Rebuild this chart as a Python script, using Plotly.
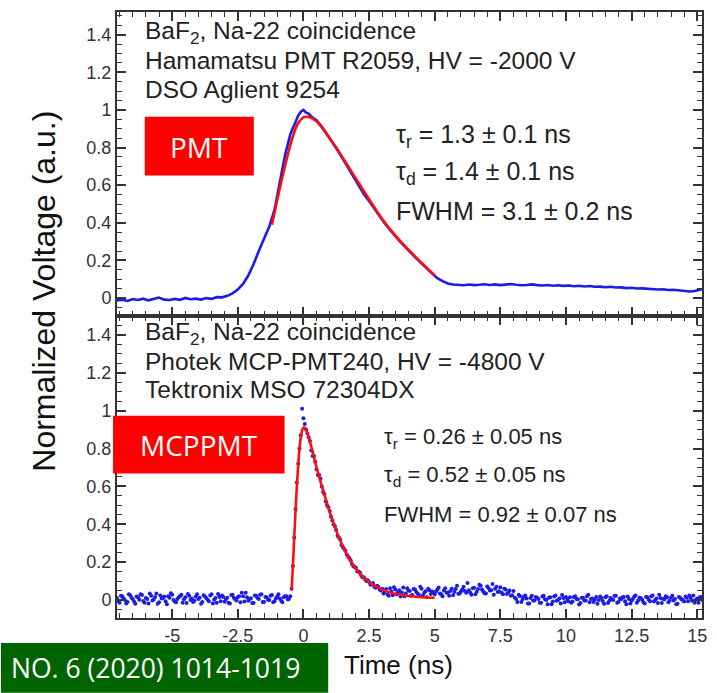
import plotly.graph_objects as go

# ---------------- data ----------------
# Top panel: Hamamatsu PMT waveform (time in ns, voltage in milli-units)
pmt_t = [-7.1, -6.9, -6.7, -6.5, -6.3, -6.1, -5.9, -5.7, -5.5, -5.3, -5.1, -4.9, -4.7, -4.5, -4.3, -4.1, -3.9, -3.7, -3.5, -3.3, -3.1,
         -2.9, -2.7, -2.5, -2.3, -2.1, -1.9, -1.7, -1.5, -1.3, -1.1, -0.9, -0.7, -0.5, -0.3, -0.2, -0.1, 0.0, 0.1, 0.2, 0.3,
         0.5, 0.7, 0.9, 1.1, 1.3, 1.5, 1.7, 1.9, 2.1, 2.3, 2.5, 2.7, 2.9, 3.1, 3.3, 3.5, 3.7, 3.9, 4.1, 4.3, 4.5, 4.7, 4.9, 5.1, 5.3, 5.5, 5.7,
         5.9, 6.1, 6.3, 6.5, 6.7, 6.9, 7.1, 7.3, 7.5, 7.7, 7.9, 8.1, 8.3, 8.5, 8.7, 8.9, 9.1, 9.3, 9.5, 9.7,
         9.9, 10.1, 10.3, 10.5, 10.7, 10.9, 11.1, 11.3, 11.5, 11.7, 11.9, 12.1, 12.3, 12.5, 12.7, 12.9, 13.1, 13.3, 13.5, 13.7,
         13.9, 14.1, 14.3, 14.5, 14.7, 14.9, 15.1, 15.2]
pmt_mv = [-12, -8, -15, -5, -10, -3, -12, -6, 3, -8, -10, -4, -9, 1, -6, -3, -8, 0, -4, 5, 4,
          12, 25, 45, 75, 120, 180, 250, 315, 380, 470, 620, 760, 870, 940, 970, 990, 1000, 985, 980, 965,
          945, 910, 872, 828, 786, 740, 692, 641, 597, 553, 516, 474, 437, 396, 362, 328, 297, 268, 238, 211, 184, 157, 131, 106, 90, 78, 72,
          70, 68, 72, 69, 71, 74, 70, 73, 69, 72, 75, 71, 68, 70, 73, 69, 67, 70, 66, 68,
          65, 67, 63, 66, 62, 64, 60, 61, 58, 60, 56, 57, 53, 55, 51, 52, 49, 50, 46, 47,
          43, 44, 40, 37, 35, 38, 45, 48]

# Top panel: fit curve
pmt_fit_t = [-1.2, -1.0, -0.8, -0.6, -0.4, -0.2, 0.0, 0.2, 0.4, 0.6, 0.8, 1.0, 1.25, 1.5, 1.75, 2.0, 2.25, 2.5, 2.75,
             3.0, 3.25, 3.5, 3.75, 4.0, 4.25, 4.5, 4.75, 5.0]
pmt_fit_v = [0.39, 0.52, 0.645, 0.76, 0.86, 0.93, 0.96, 0.962, 0.95, 0.925, 0.89, 0.85, 0.80, 0.745, 0.69, 0.635, 0.58, 0.525, 0.472,
             0.42, 0.375, 0.333, 0.293, 0.257, 0.222, 0.188, 0.154, 0.12]

# Bottom panel: Photek MCP-PMT samples (two interleaved sample sets)
mcp_a_t = [-7.1, -7.0, -6.9, -6.8, -6.7, -6.6, -6.5, -6.4, -6.3, -6.2,
           -6.1, -6.0, -5.9, -5.8, -5.7, -5.6, -5.5, -5.4, -5.3, -5.2,
           -5.1, -5.0, -4.9, -4.8, -4.7, -4.6, -4.5, -4.4, -4.3, -4.2,
           -4.1, -4.0, -3.9, -3.8, -3.7, -3.6, -3.5, -3.4, -3.3, -3.2,
           -3.1, -3.0, -2.9, -2.8, -2.7, -2.6, -2.5, -2.4, -2.3, -2.2,
           -2.1, -2.0, -1.9, -1.8, -1.7, -1.6, -1.5, -1.4, -1.3, -1.2,
           -1.1, -1.0, -0.9, -0.8, -0.7, -0.6,
           -0.5, -0.4, -0.3, -0.2, -0.1, 0.0, 0.1, 0.2, 0.3, 0.4,
           0.5, 0.6, 0.7, 0.8, 0.9, 1.0, 1.1, 1.2, 1.3, 1.4,
           1.5, 1.6, 1.7, 1.8, 1.9, 2.0, 2.1, 2.2, 2.3, 2.4,
           2.5, 2.6, 2.7, 2.8, 2.9, 3.0,
           3.1, 3.2, 3.3, 3.4, 3.5, 3.6, 3.7, 3.8, 3.9, 4.0,
           4.1, 4.2, 4.3, 4.4, 4.5, 4.6, 4.7, 4.8, 4.9, 5.0,
           5.1, 5.2, 5.3, 5.4, 5.5, 5.6, 5.7, 5.8, 5.9, 6.0,
           6.1, 6.2, 6.3, 6.4, 6.5, 6.6, 6.7, 6.8, 6.9, 7.0,
           7.1, 7.2, 7.3, 7.4, 7.5, 7.6, 7.7, 7.8, 7.9, 8.0,
           8.1, 8.2, 8.3, 8.4, 8.5, 8.6, 8.7, 8.8, 8.9, 9.0,
           9.1, 9.2, 9.3, 9.4, 9.5, 9.6, 9.7, 9.8, 9.9, 10.0,
           10.1, 10.2, 10.3, 10.4, 10.5, 10.6, 10.7, 10.8, 10.9, 11.0,
           11.1, 11.2, 11.3, 11.4, 11.5, 11.6, 11.7, 11.8, 11.9, 12.0,
           12.1, 12.2, 12.3, 12.4, 12.5, 12.6, 12.7, 12.8, 12.9, 13.0,
           13.1, 13.2, 13.3, 13.4, 13.5, 13.6, 13.7, 13.8, 13.9, 14.0,
           14.1, 14.2, 14.3, 14.4, 14.5, 14.6, 14.7, 14.8, 14.9, 15.0,
           15.1, 15.2]
mcp_a_mv = [10, -15, 20, 0, -10, 25, 5, -20, 15, 30,
            -5, 10, -18, 22, 3, 35, -12, 8, 18, -22,
            12, 28, -8, 5, 20, -15, 14, 32, 0, -10,
            18, 6, -20, 25, 10, -6, 30, 2, -14, 16,
            24, -9, 12, -18, 28, 4, 15, -12, 20, 38,
            -4, 9, -16, 22, 6, 30, -10, 14, 0, 26,
            -7, 18, 8, -12, 20, 4,
            20, 180, 480, 720, 870, 960, 900, 860, 790, 760,
            690, 660, 600, 560, 500, 470, 420, 390, 340, 320,
            280, 260, 230, 210, 180, 170, 150, 130, 120, 100,
            95, 85, 70, 75, 55, 60,
            48, 30, 62, 25, 55, 40, 18, 66, 35, 50,
            22, 58, 42, 28, 60, 38, 15, 52, 45, 30,
            55, 35, 20, 62, 40, 48, 25, 58, 33, 45,
            70, 38, 52, 28, 65, 44, 80, 55, 36, 72,
            50, 85, 60, 42, 68, 30, 55, 40, 22, 48,
            5, 28, -10, 18, 8, -18, 22, -2, 12, -14,
            18, 4, -22, 14, -8, 24, 0, -18, 10, 16,
            -6, -14, 16, 6, -24, 12, -2, 20, -12, 8,
            2, -20, 18, -5, 14, -16, 10, 0, 22, -10,
            4, 16, -22, 6, -4, 18, -14, 12, 2, -18,
            14, -6, 24, 0, -16, 10, 6, 20, -12, 12,
            -2, -22, 16, 4, -8, 12, 24, -4, -14, 8,
            14, 0]

mcp_b_t = [-7.05, -6.95, -6.85, -6.75, -6.65, -6.55, -6.45, -6.35, -6.25, -6.15,
           -6.05, -5.95, -5.85, -5.75, -5.65, -5.55, -5.45, -5.35, -5.25, -5.15,
           -5.05, -4.95, -4.85, -4.75, -4.65, -4.55, -4.45, -4.35, -4.25, -4.15,
           -4.05, -3.95, -3.85, -3.75, -3.65, -3.55, -3.45, -3.35, -3.25, -3.15,
           -3.05, -2.95, -2.85, -2.75, -2.65, -2.55, -2.45, -2.35, -2.25, -2.15,
           -2.05, -1.95, -1.85, -1.75, -1.65, -1.55, -1.45, -1.35, -1.25, -1.15,
           -1.05, -0.95, -0.85, -0.75, -0.65, -0.55,
           -0.45, -0.35, -0.25, -0.15, -0.05, 0.05, 0.15, 0.25, 0.35, 0.45,
           0.55, 0.65, 0.75, 0.85, 0.95, 1.05, 1.15, 1.25, 1.35, 1.45,
           1.55, 1.65, 1.75, 1.85, 1.95, 2.05, 2.15, 2.25, 2.35, 2.45,
           2.55, 2.65, 2.75, 2.85, 2.95,
           3.05, 3.15, 3.25, 3.35, 3.45, 3.55, 3.65, 3.75, 3.85, 3.95,
           4.05, 4.15, 4.25, 4.35, 4.45, 4.55, 4.65, 4.75, 4.85, 4.95,
           5.05, 5.15, 5.25, 5.35, 5.45, 5.55, 5.65, 5.75, 5.85, 5.95,
           6.05, 6.15, 6.25, 6.35, 6.45, 6.55, 6.65, 6.75, 6.85, 6.95,
           7.05, 7.15, 7.25, 7.35, 7.45, 7.55, 7.65, 7.75, 7.85, 7.95,
           8.05, 8.15, 8.25, 8.35, 8.45, 8.55, 8.65, 8.75, 8.85, 8.95,
           9.05, 9.15, 9.25, 9.35, 9.45, 9.55, 9.65, 9.75, 9.85, 9.95,
           10.05, 10.15, 10.25, 10.35, 10.45, 10.55, 10.65, 10.75, 10.85, 10.95,
           11.05, 11.15, 11.25, 11.35, 11.45, 11.55, 11.65, 11.75, 11.85, 11.95,
           12.05, 12.15, 12.25, 12.35, 12.45, 12.55, 12.65, 12.75, 12.85, 12.95,
           13.05, 13.15, 13.25, 13.35, 13.45, 13.55, 13.65, 13.75, 13.85, 13.95,
           14.05, 14.15, 14.25, 14.35, 14.45, 14.55, 14.65, 14.75, 14.85, 14.95,
           15.05, 15.15]
mcp_b_mv = [-5, 22, 8, -18, 30, 12, -8, 18, 2, 26,
            -14, 6, 34, -2, 16, -20, 24, 10, -6, 20,
            36, 0, -12, 14, 28, 4, -16, 22, 8, -4,
            30, 12, -10, 18, 2, 24, -18, 10, 32, -6,
            16, 6, -14, 26, 12, -2, 20, 38, -8, 14,
            4, -16, 24, 10, 28, -10, 16, 2, 22, -12,
            8, 30, -4, 14, 20, 6,
            60, 330, 620, 800, 1010, 930, 880, 840, 760, 730,
            660, 640, 570, 520, 490, 440, 400, 370, 330, 290,
            270, 240, 220, 190, 175, 150, 145, 120, 110, 105,
            80, 90, 65, 70, 50,
            35, 58, 22, 45, 68, 30, 52, 40, 20, 62,
            48, 26, 55, 35, 70, 24, 46, 60, 32, 40,
            45, 66, 30, 50, 38, 22, 60, 42, 75, 35,
            55, 48, 90, 40, 62, 30, 58, 76, 45, 35,
            64, 52, 28, 70, 46, 38, 60, 32, 50, 25,
            12, -10, 20, 4, 24, -18, 10, -2, 16, 6,
            -14, 22, 0, 12, -22, 18, -4, 8, 26, -12,
            2, 14, -8, 20, 4, -16, 12, -2, 28, 6,
            -10, 16, 0, 10, -20, 20, -4, 4, 22, -14,
            8, 14, -6, 18, -18, 6, 24, -2, 10, -12,
            16, 2, 20, -8, 8, 28, -16, 4, 14, -4,
            22, 6, -20, 12, 0, 18, -6, 10, 24, 2,
            -14, 16]

# Bottom panel: fit curve
mcp_fit_t = [-0.45, -0.4, -0.35, -0.3, -0.25, -0.2, -0.15, -0.1, -0.05, 0.0, 0.05, 0.1, 0.2, 0.3, 0.4, 0.5, 0.6, 0.8,
             1.0, 1.2, 1.4, 1.6, 1.8, 2.0, 2.2, 2.4, 2.6, 2.8, 3.0, 3.3, 3.6, 4.0, 4.5, 5.0]
mcp_fit_v = [0.05, 0.18, 0.33, 0.47, 0.6, 0.71, 0.8, 0.86, 0.895, 0.91, 0.91, 0.9, 0.86, 0.81, 0.755, 0.70, 0.65, 0.555,
             0.465, 0.385, 0.315, 0.255, 0.205, 0.165, 0.13, 0.105, 0.085, 0.068, 0.055, 0.04, 0.03, 0.021, 0.015, 0.012]

# Tick labels
x_tick_vals = [-5, -2.5, 0, 2.5, 5, 7.5, 10, 12.5, 15]
x_tick_text = ["-5", "-2.5", "0", "2.5", "5", "7.5", "10", "12.5", "15"]
y_tick_vals = [0, 0.2, 0.4, 0.6, 0.8, 1.0, 1.2, 1.4]
y_tick_text = ["0", "0.2", "0.4", "0.6", "0.8", "1", "1.2", "1.4"]

assert len(pmt_t) == len(pmt_mv)
assert len(mcp_a_t) == len(mcp_a_mv)
assert len(mcp_b_t) == len(mcp_b_mv)
assert len(pmt_fit_t) == len(pmt_fit_v) and len(mcp_fit_t) == len(mcp_fit_v)

pmt_v = [v / 1000 for v in pmt_mv]
mcp_t = mcp_a_t + mcp_b_t
mcp_v = [v / 1000 for v in mcp_a_mv + mcp_b_mv]

# ---------------- layout helpers ----------------
W, H = 717, 693
ML, MR, MT, MB = 117, 10, 10, 75
PW = W - ML - MR
PH = H - MT - MB


def px(x):
    return (x - ML) / PW


def py(y):
    return (H - MB - y) / PH


BLUE = "#1c1ce8"
RED = "#ff0d0d"
FRAME = "#333333"
SANS = "Liberation Sans, Arial, Helvetica, sans-serif"
BOXFONT = "Open Sans, Noto Sans, sans-serif"

fig = go.Figure()
fig.add_trace(go.Scatter(x=pmt_t, y=pmt_v, mode="lines", line=dict(color=BLUE, width=2.6),
                         xaxis="x", yaxis="y", showlegend=False, hoverinfo="skip"))
fig.add_trace(go.Scatter(x=pmt_fit_t, y=pmt_fit_v, mode="lines", line=dict(color=RED, width=2.6, shape="spline"),
                         xaxis="x", yaxis="y", showlegend=False, hoverinfo="skip"))
fig.add_trace(go.Scatter(x=mcp_t, y=mcp_v, mode="markers", marker=dict(color=BLUE, size=4, line=dict(width=0)),
                         xaxis="x2", yaxis="y2", showlegend=False, hoverinfo="skip"))
fig.add_trace(go.Scatter(x=mcp_fit_t, y=mcp_fit_v, mode="lines", line=dict(color=RED, width=2.6, shape="spline"),
                         xaxis="x2", yaxis="y2", showlegend=False, hoverinfo="skip"))

axis_common = dict(showline=True, linecolor=FRAME, linewidth=2, mirror="allticks",
                   ticks="inside", ticklen=9, tickwidth=1.5, tickcolor=FRAME,
                   showgrid=False, zeroline=False,
                   tickfont=dict(family=SANS, size=18, color="#333333"))
x_minor = dict(ticks="inside", ticklen=5, tickwidth=1.2, tickcolor=FRAME, tickmode="linear", tick0=0, dtick=0.5, showgrid=False)
y_minor = dict(ticks="inside", ticklen=5, tickwidth=1.2, tickcolor=FRAME, tickmode="linear", tick0=0, dtick=0.05, showgrid=False)

split = (H - MB - 315) / PH
x_range = [-7.1, 15.18]

fig.update_layout(
    width=W, height=H, autosize=False,
    margin=dict(l=ML, r=MR, t=MT, b=MB, pad=0),
    paper_bgcolor="white", plot_bgcolor="white",
    xaxis=dict(domain=[0, 1], anchor="y", range=x_range, tickmode="array", tickvals=x_tick_vals,
               ticktext=x_tick_text, showticklabels=False, minor=x_minor, **axis_common),
    xaxis2=dict(domain=[0, 1], anchor="y2", range=x_range, tickmode="array", tickvals=x_tick_vals,
                ticktext=x_tick_text, showticklabels=True, minor=x_minor, **axis_common),
    yaxis=dict(domain=[split, 1], anchor="x", range=[-0.095, 1.52], tickmode="array", tickvals=y_tick_vals,
               ticktext=y_tick_text, minor=y_minor, **axis_common),
    yaxis2=dict(domain=[0, split], anchor="x2", range=[-0.095, 1.5], tickmode="array", tickvals=y_tick_vals,
                ticktext=y_tick_text, minor=y_minor, **axis_common),
)

TXT = "#222222"


def label(text, x, y, size=23, xanchor="left", color=TXT, family=SANS, angle=0):
    fig.add_annotation(text=text, x=px(x), y=py(y), xref="paper", yref="paper",
                       xanchor=xanchor, yanchor="middle", showarrow=False, textangle=angle,
                       font=dict(family=family, size=size, color=color))


# top panel texts
label("BaF<sub>2</sub>, Na-22 coincidence", 143, 31, size=24.5)
label("Hamamatsu PMT R2059, HV = -2000 V", 143, 59, size=24.5)
label("DSO Aglient 9254", 143, 88, size=24.5)
label("τ<sub>r</sub> = 1.3 ± 0.1 ns", 396, 134, size=25)
label("τ<sub>d</sub> = 1.4 ± 0.1 ns", 396, 172, size=25)
label("FWHM = 3.1 ± 0.2 ns", 396, 210, size=25)

# bottom panel texts
label("BaF<sub>2</sub>, Na-22 coincidence", 143, 333, size=24.5)
label("Photek MCP-PMT240, HV = -4800 V", 143, 361, size=24.5)
label("Tektronix MSO 72304DX", 143, 389, size=24.5)
label("τ<sub>r</sub> = 0.26 ± 0.05 ns", 384, 437, size=22)
label("τ<sub>d</sub> = 0.52 ± 0.05 ns", 384, 476, size=22)
label("FWHM = 0.92 ± 0.07 ns", 384, 514, size=22)

# axis titles
label("Time (ns)", 401, 665, size=26, xanchor="center", color="#111111")
label("Normalized Voltage (a.u.)", 43, 290, size=32, xanchor="center", color="#111111", angle=-90)

# coloured boxes
boxes = [
    (145, 115, 255, 174, "#ff0000"),
    (113, 415, 286, 473, "#ff0000"),
    (0, 643, 330, 693, "#006400"),
]
for x0, y0, x1, y1, col in boxes:
    fig.add_shape(type="rect", xref="paper", yref="paper", x0=px(x0), x1=px(x1), y0=py(y1), y1=py(y0),
                  fillcolor=col, line=dict(width=0), layer="above")

label("PMT", 200, 145, size=28, xanchor="center", color="white", family=BOXFONT)
label("MCPPMT", 200, 444, size=28, xanchor="center", color="white", family=BOXFONT)
label("NO. 6 (2020) 1014-1019", 304, 668, size=26.5, xanchor="right", color="white", family=BOXFONT)

fig.write_html("out.html")
